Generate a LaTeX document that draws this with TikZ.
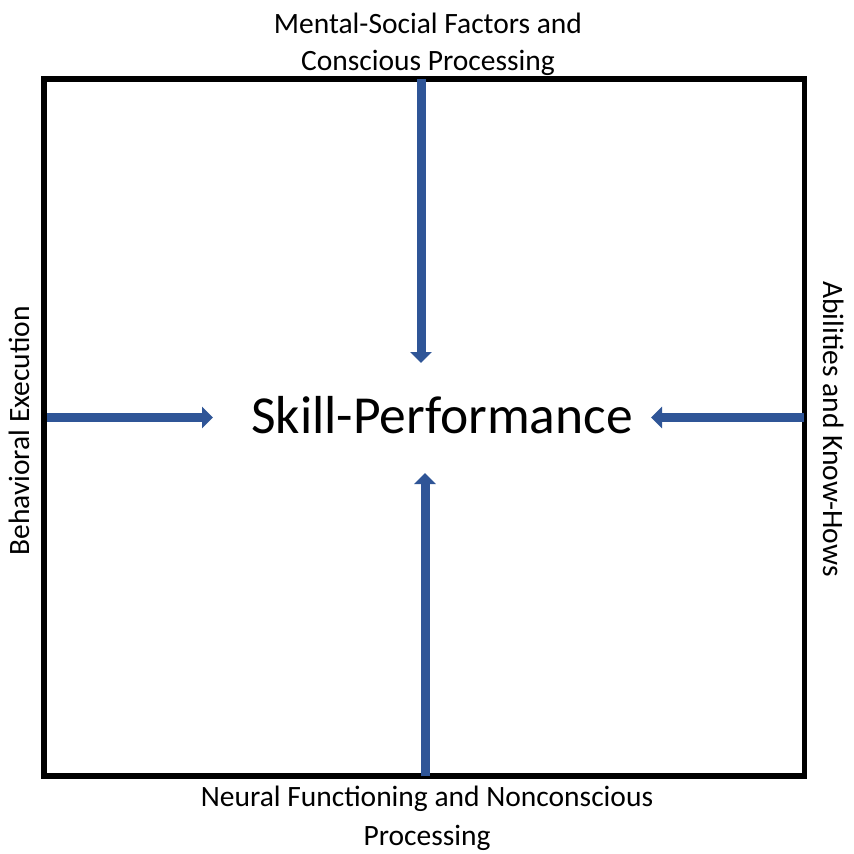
\documentclass[tikz,border=0pt]{standalone}
\usepackage{fontspec}
\setmainfont{Carlito}
\usetikzlibrary{arrows.meta}
\definecolor{arrblue}{RGB}{47,85,151}
\tikzset{
  frame/.style={draw=black, line width=5.5pt},
  bluearrow/.style={draw=arrblue, line width=9pt, -{Triangle[width=21pt,length=11pt]}},
  lbl/.style={inner sep=0pt, align=center, font=\fontsize{29.5}{36.6}\selectfont},
  lblb/.style={lbl, font=\fontsize{29.5}{39}\selectfont},
  bigl/.style={inner sep=0pt, font=\fontsize{53.5}{60}\selectfont}
}
\begin{document}
\begin{tikzpicture}[x=1pt,y=-1pt]
\useasboundingbox (0,0) rectangle (854,854);
\fill[white] (0,0) rectangle (854,854);
\draw[frame] (44,79) rectangle (804.5,776);
\node[bigl, anchor=base] (sp) at (442,433) {Skill-Performance};
\node[lbl] (top) at (428,44) {Mental-Social Factors and\\Conscious Processing};
\node[lblb] (bot) at (427,818.5) {Neural Functioning and Nonconscious\\Processing};
\node[lbl, rotate=90, anchor=base] (lft) at (29,431) {Behavioral Execution};
\node[lbl, rotate=-90, anchor=base] (rgt) at (823,429) {Abilities and Know-Hows};
\coordinate (tS) at (421,79);
\coordinate (tE) at (421,363);
\coordinate (bS) at (425,776);
\coordinate (bE) at (425,473);
\coordinate (lS) at (47,417.5);
\coordinate (lE) at (213,417.5);
\coordinate (rS) at (804,417.5);
\coordinate (rE) at (651,417.5);
\draw[bluearrow] (tS) -- (tE);
\draw[bluearrow] (bS) -- (bE);
\draw[bluearrow] (lS) -- (lE);
\draw[bluearrow] (rS) -- (rE);
\end{tikzpicture}
\end{document}
